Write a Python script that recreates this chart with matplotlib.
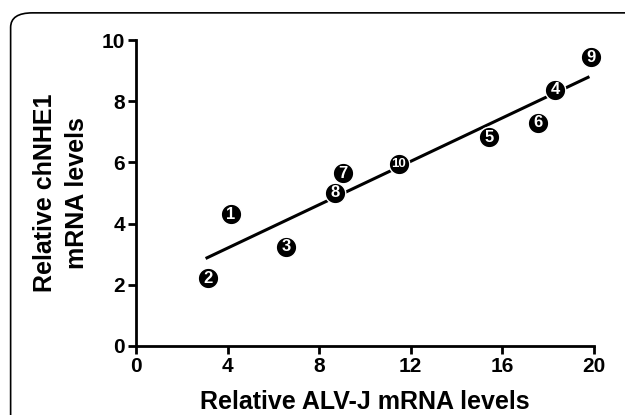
import numpy as np
import matplotlib
matplotlib.use("Agg")
import matplotlib.pyplot as plt
from matplotlib.patches import FancyBboxPatch

# dados
labels = ['1', '2', '3', '4', '5', '6', '7', '8', '9', '10']
alvj = [4.15, 3.14, 6.55, 18.3, 15.41, 17.55, 9.04, 8.69, 19.87, 11.48]
chnhe1 = [4.31, 2.22, 3.24, 8.37, 6.83, 7.29, 5.65, 5.0, 9.44, 5.95]
fit_range = [3.1, 19.74]

plt.rcParams['font.family'] = ['Liberation Sans', 'DejaVu Sans']
plt.rcParams['font.weight'] = 'bold'

fig = plt.figure(figsize=(6.25, 4.15), dpi=100)
ax = fig.add_axes([0.2176, 0.1663, 0.7328, 0.7373])

# moldura arredondada
moldura = FancyBboxPatch((0.017, -0.05), 1.05, 1.019, transform=fig.transFigure,
                         boxstyle='round,pad=0,rounding_size=0.035',
                         facecolor='none', edgecolor='black', linewidth=1.2)
fig.patches.append(moldura)

# reta de regressão
x = np.array(alvj)
y = np.array(chnhe1)
a, b = np.polyfit(x, y, 1)
xs = np.array(fit_range)
ax.plot(xs, a * xs + b, color='black', linewidth=2.2, zorder=2)

# pontos numerados
ax.scatter(x, y, s=220, color='black', edgecolor='white', linewidth=1.0, zorder=3, clip_on=False)
for xi, yi, lab in zip(x, y, labels):
    ax.text(xi, yi, lab, color='white', fontsize=12 if len(lab) == 1 else 9.5,
            ha='center', va='center', fontweight='bold', zorder=4)

ax.set_xlim(0, 20)
ax.set_ylim(0, 10)
ax.set_xticks([0, 4, 8, 12, 16, 20])
ax.set_yticks([0, 2, 4, 6, 8, 10])
ax.spines['top'].set_visible(False)
ax.spines['right'].set_visible(False)
for s in ['left', 'bottom']:
    ax.spines[s].set_linewidth(2)
ax.tick_params(width=2, length=6, labelsize=15, pad=2)
for t in ax.get_xticklabels() + ax.get_yticklabels():
    t.set_fontweight('bold')

ax.set_xlabel('Relative ALV-J mRNA levels', fontsize=18, fontweight='bold', labelpad=10)
ax.set_ylabel('Relative chNHE1\nmRNA levels', fontsize=18, fontweight='bold', labelpad=9,
              linespacing=1.4)

fig.savefig('out.png', dpi=100)
